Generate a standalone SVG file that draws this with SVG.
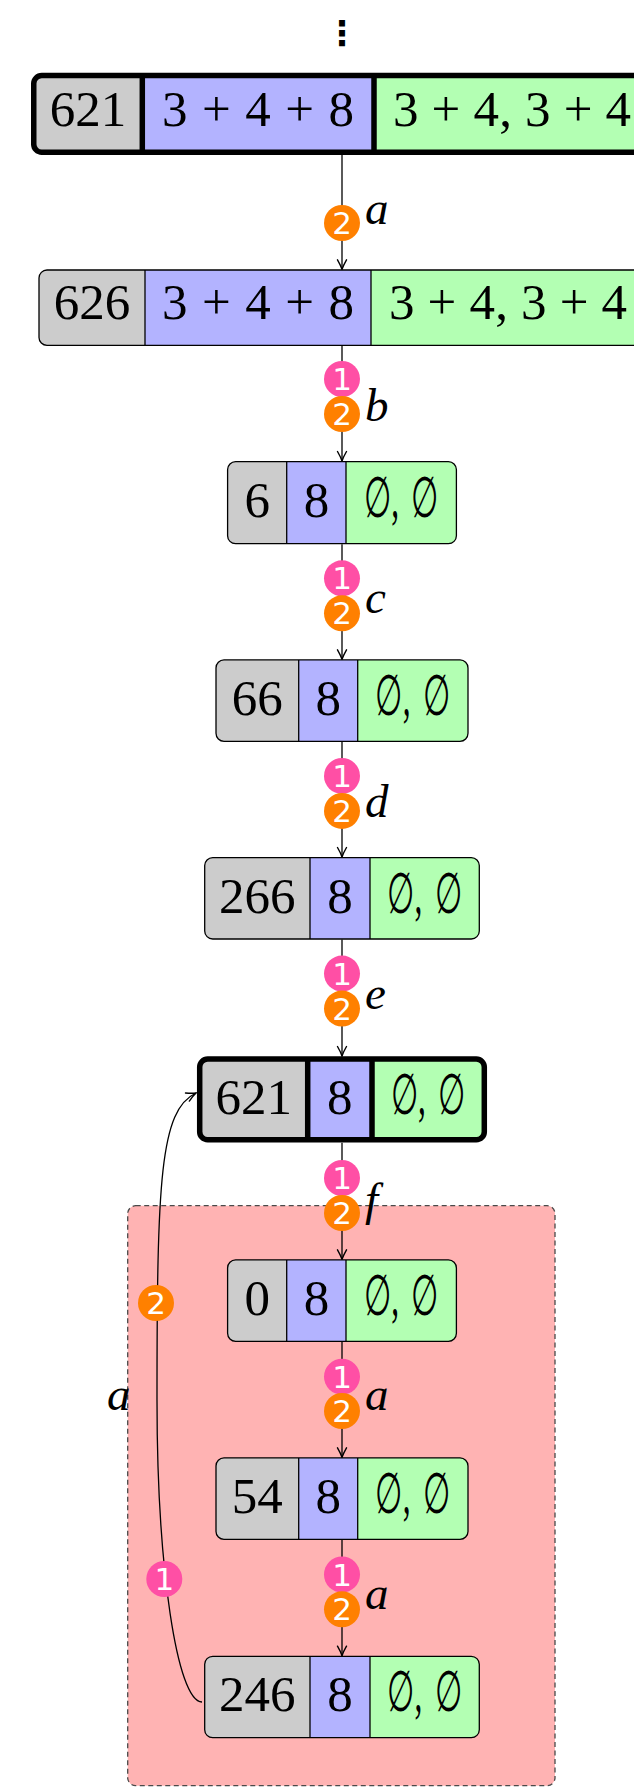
<svg xmlns="http://www.w3.org/2000/svg" width="634" height="1788" viewBox="0 0 634 1788">
<style>
.cg{fill:#cccccc}.cb{fill:#b3b3ff}.cr{fill:#b3ffb3}
.ol{fill:none;stroke:#000;stroke-width:1.3}
.olk{fill:none;stroke:#000;stroke-width:5.5}
.dv{stroke:#000;stroke-width:1.3}
.dvk{stroke:#000;stroke-width:5.5}
.t{font-family:"Liberation Serif","DejaVu Serif",serif;font-size:51px;text-anchor:middle;fill:#000}
.e{font-size:57px;word-spacing:8px}
.lbl{font-family:"Liberation Serif","DejaVu Serif",serif;font-style:italic;font-size:47px;fill:#000}
.pk{fill:#ff4fa5}.or{fill:#ff8000}
.bt{font-family:"DejaVu Sans",sans-serif;font-size:31px;fill:#fff;text-anchor:middle}
.edge{stroke:#000;stroke-width:1.3;fill:none}
</style>
<defs>
<marker id="ah" viewBox="-11 -6 12 12" markerWidth="12" markerHeight="12" refX="0" refY="0" orient="auto" markerUnits="userSpaceOnUse">
<path d="M-9.5,-4.5 C-6,-2.5 -2.5,-0.8 0,0 C-2.5,0.8 -6,2.5 -9.5,4.5" fill="none" stroke="#000" stroke-width="1.4" stroke-linecap="round"/>
</marker>
</defs>

<g id="region">
<rect x="127.7" y="1205.7" width="427.3" height="580" rx="8" fill="#ffb3b3" stroke="#4a4a4a" stroke-width="1.3" stroke-dasharray="5 3.5"/>
</g>

<g id="dots">
<text x="342" y="45" font-family="DejaVu Sans, sans-serif" font-size="34" font-weight="bold" text-anchor="middle">⋮</text>
</g>

<g id="n1">
<path class="cg" d="M41.75,75.5 H142.3 V152.2 H41.75 A8 8 0 0 1 33.75,144.2 V83.5 A8 8 0 0 1 41.75,75.5 Z"/>
<rect class="cb" x="142.3" y="75.5" width="231.7" height="76.7"/>
<path class="cr" d="M374,75.5 H642.25 A8 8 0 0 1 650.25,83.5 V144.2 A8 8 0 0 1 642.25,152.2 H374 Z"/>
<rect class="olk" x="33.75" y="75.5" width="616.5" height="76.7" rx="8"/>
<line class="dvk" x1="142.3" y1="75.5" x2="142.3" y2="152.2"/>
<line class="dvk" x1="374" y1="75.5" x2="374" y2="152.2"/>
<text class="t" x="88" y="126">621</text>
<text class="t" x="258" y="126" textLength="192" lengthAdjust="spacing">3 + 4 + 8</text>
<text class="t" x="512" y="126" textLength="238" lengthAdjust="spacing">3 + 4, 3 + 4</text>
</g>

<g id="n2">
<path class="cg" d="M47,270 H145 V345.4 H47 A8 8 0 0 1 39,337.4 V278 A8 8 0 0 1 47,270 Z"/>
<rect class="cb" x="145" y="270" width="226" height="75.4"/>
<path class="cr" d="M371,270 H637 A8 8 0 0 1 645,278 V337.4 A8 8 0 0 1 637,345.4 H371 Z"/>
<rect class="ol" x="39" y="270" width="606" height="75.4" rx="8"/>
<line class="dv" x1="145" y1="270" x2="145" y2="345.4"/>
<line class="dv" x1="371" y1="270" x2="371" y2="345.4"/>
<text class="t" x="92" y="319">626</text>
<text class="t" x="258" y="319" textLength="192" lengthAdjust="spacing">3 + 4 + 8</text>
<text class="t" x="508" y="319" textLength="238" lengthAdjust="spacing">3 + 4, 3 + 4</text>
</g>

<g id="n3">
<path class="cg" d="M235.6,461.6 H286.7 V543.7 H235.6 A8 8 0 0 1 227.6,535.7 V469.6 A8 8 0 0 1 235.6,461.6 Z"/>
<rect class="cb" x="286.7" y="461.6" width="59.3" height="82.1"/>
<path class="cr" d="M346,461.6 H448.4 A8 8 0 0 1 456.4,469.6 V535.7 A8 8 0 0 1 448.4,543.7 H346 Z"/>
<rect class="ol" x="227.6" y="461.6" width="228.8" height="82.1" rx="8"/>
<line class="dv" x1="286.7" y1="461.6" x2="286.7" y2="543.7"/>
<line class="dv" x1="346" y1="461.6" x2="346" y2="543.7"/>
<text class="t" x="257.2" y="517.4">6</text>
<text class="t" x="316.4" y="517.4">8</text>
<text class="t e" x="401.2" y="517.4" textLength="75" lengthAdjust="spacingAndGlyphs">∅, ∅</text>
</g>

<g id="n4">
<path class="cg" d="M224,659.9 H298.7 V741.3 H224 A8 8 0 0 1 216,733.3 V667.9 A8 8 0 0 1 224,659.9 Z"/>
<rect class="cb" x="298.7" y="659.9" width="59" height="81.4"/>
<path class="cr" d="M357.7,659.9 H460 A8 8 0 0 1 468,667.9 V733.3 A8 8 0 0 1 460,741.3 H357.7 Z"/>
<rect class="ol" x="216" y="659.9" width="252" height="81.4" rx="8"/>
<line class="dv" x1="298.7" y1="659.9" x2="298.7" y2="741.3"/>
<line class="dv" x1="357.7" y1="659.9" x2="357.7" y2="741.3"/>
<text class="t" x="257.35" y="715">66</text>
<text class="t" x="328.2" y="715">8</text>
<text class="t e" x="412.85" y="715" textLength="75" lengthAdjust="spacingAndGlyphs">∅, ∅</text>
</g>

<g id="n5">
<path class="cg" d="M212.7,857.6 H310 V939 H212.7 A8 8 0 0 1 204.7,931 V865.6 A8 8 0 0 1 212.7,857.6 Z"/>
<rect class="cb" x="310" y="857.6" width="60" height="81.4"/>
<path class="cr" d="M370,857.6 H471.3 A8 8 0 0 1 479.3,865.6 V931 A8 8 0 0 1 471.3,939 H370 Z"/>
<rect class="ol" x="204.7" y="857.6" width="274.6" height="81.4" rx="8"/>
<line class="dv" x1="310" y1="857.6" x2="310" y2="939"/>
<line class="dv" x1="370" y1="857.6" x2="370" y2="939"/>
<text class="t" x="257.35" y="912.7">266</text>
<text class="t" x="340" y="912.7">8</text>
<text class="t e" x="424.65" y="912.7" textLength="75" lengthAdjust="spacingAndGlyphs">∅, ∅</text>
</g>

<g id="n6">
<path class="cg" d="M207.7,1059 H307.7 V1139.7 H207.7 A8 8 0 0 1 199.7,1131.7 V1067 A8 8 0 0 1 207.7,1059 Z"/>
<rect class="cb" x="307.7" y="1059" width="64.3" height="80.7"/>
<path class="cr" d="M372,1059 H476.3 A8 8 0 0 1 484.3,1067 V1131.7 A8 8 0 0 1 476.3,1139.7 H372 Z"/>
<rect class="olk" x="199.7" y="1059" width="284.6" height="80.7" rx="8"/>
<line class="dvk" x1="307.7" y1="1059" x2="307.7" y2="1139.7"/>
<line class="dvk" x1="372" y1="1059" x2="372" y2="1139.7"/>
<text class="t" x="253.7" y="1114">621</text>
<text class="t" x="339.85" y="1114">8</text>
<text class="t e" x="428.15" y="1114" textLength="75" lengthAdjust="spacingAndGlyphs">∅, ∅</text>
</g>

<g id="n7">
<path class="cg" d="M235.6,1259.9 H286.7 V1341.3 H235.6 A8 8 0 0 1 227.6,1333.3 V1267.9 A8 8 0 0 1 235.6,1259.9 Z"/>
<rect class="cb" x="286.7" y="1259.9" width="59.3" height="81.4"/>
<path class="cr" d="M346,1259.9 H448.4 A8 8 0 0 1 456.4,1267.9 V1333.3 A8 8 0 0 1 448.4,1341.3 H346 Z"/>
<rect class="ol" x="227.6" y="1259.9" width="228.8" height="81.4" rx="8"/>
<line class="dv" x1="286.7" y1="1259.9" x2="286.7" y2="1341.3"/>
<line class="dv" x1="346" y1="1259.9" x2="346" y2="1341.3"/>
<text class="t" x="257.2" y="1315">0</text>
<text class="t" x="316.4" y="1315">8</text>
<text class="t e" x="401.2" y="1315" textLength="75" lengthAdjust="spacingAndGlyphs">∅, ∅</text>
</g>

<g id="n8">
<path class="cg" d="M224,1457.9 H298.7 V1539.4 H224 A8 8 0 0 1 216,1531.4 V1465.9 A8 8 0 0 1 224,1457.9 Z"/>
<rect class="cb" x="298.7" y="1457.9" width="59" height="81.5"/>
<path class="cr" d="M357.7,1457.9 H460 A8 8 0 0 1 468,1465.9 V1531.4 A8 8 0 0 1 460,1539.4 H357.7 Z"/>
<rect class="ol" x="216" y="1457.9" width="252" height="81.5" rx="8"/>
<line class="dv" x1="298.7" y1="1457.9" x2="298.7" y2="1539.4"/>
<line class="dv" x1="357.7" y1="1457.9" x2="357.7" y2="1539.4"/>
<text class="t" x="257.35" y="1513">54</text>
<text class="t" x="328.2" y="1513">8</text>
<text class="t e" x="412.85" y="1513" textLength="75" lengthAdjust="spacingAndGlyphs">∅, ∅</text>
</g>

<g id="n9">
<path class="cg" d="M212.7,1656.3 H310 V1737.7 H212.7 A8 8 0 0 1 204.7,1729.7 V1664.3 A8 8 0 0 1 212.7,1656.3 Z"/>
<rect class="cb" x="310" y="1656.3" width="60" height="81.4"/>
<path class="cr" d="M370,1656.3 H471.3 A8 8 0 0 1 479.3,1664.3 V1729.7 A8 8 0 0 1 471.3,1737.7 H370 Z"/>
<rect class="ol" x="204.7" y="1656.3" width="274.6" height="81.4" rx="8"/>
<line class="dv" x1="310" y1="1656.3" x2="310" y2="1737.7"/>
<line class="dv" x1="370" y1="1656.3" x2="370" y2="1737.7"/>
<text class="t" x="257.35" y="1711.4">246</text>
<text class="t" x="340" y="1711.4">8</text>
<text class="t e" x="424.65" y="1711.4" textLength="75" lengthAdjust="spacingAndGlyphs">∅, ∅</text>
</g>

<g id="connectors">
<line class="edge" x1="342" y1="155" x2="342" y2="269.3" marker-end="url(#ah)"/>
<line class="edge" x1="342" y1="346" x2="342" y2="461" marker-end="url(#ah)"/>
<line class="edge" x1="342" y1="544.3" x2="342" y2="659.3" marker-end="url(#ah)"/>
<line class="edge" x1="342" y1="741.9" x2="342" y2="857" marker-end="url(#ah)"/>
<line class="edge" x1="342" y1="939.6" x2="342" y2="1056" marker-end="url(#ah)"/>
<line class="edge" x1="342" y1="1142.7" x2="342" y2="1259.3" marker-end="url(#ah)"/>
<line class="edge" x1="342" y1="1341.7" x2="342" y2="1457.3" marker-end="url(#ah)"/>
<line class="edge" x1="342" y1="1540" x2="342" y2="1655.7" marker-end="url(#ah)"/>
<path class="edge" d="M202,1702 C177,1702 157,1567 157,1400 C157,1180 160,1110 196,1093" marker-end="url(#ah)"/>

<circle class="or" cx="342" cy="223" r="18"/><text class="bt" x="342" y="234">2</text>
<text class="lbl" x="365" y="224">a</text>

<circle class="pk" cx="342" cy="379" r="18"/><text class="bt" x="342" y="390">1</text>
<circle class="or" cx="342" cy="414" r="18"/><text class="bt" x="342" y="425">2</text>
<text class="lbl" x="365" y="421">b</text>

<circle class="pk" cx="342" cy="578.3" r="18"/><text class="bt" x="342" y="589.3">1</text>
<circle class="or" cx="342" cy="613.3" r="18"/><text class="bt" x="342" y="624.3">2</text>
<text class="lbl" x="365" y="613.3">c</text>

<circle class="pk" cx="342" cy="775.9" r="18"/><text class="bt" x="342" y="786.9">1</text>
<circle class="or" cx="342" cy="810.9" r="18"/><text class="bt" x="342" y="821.9">2</text>
<text class="lbl" x="365" y="817">d</text>

<circle class="pk" cx="342" cy="973.6" r="18"/><text class="bt" x="342" y="984.6">1</text>
<circle class="or" cx="342" cy="1008.6" r="18"/><text class="bt" x="342" y="1019.6">2</text>
<text class="lbl" x="365" y="1008.6">e</text>

<circle class="pk" cx="342" cy="1178" r="18"/><text class="bt" x="342" y="1189">1</text>
<circle class="or" cx="342" cy="1213" r="18"/><text class="bt" x="342" y="1224">2</text>
<text class="lbl" x="365" y="1215">f</text>

<circle class="pk" cx="342" cy="1376.7" r="18"/><text class="bt" x="342" y="1387.7">1</text>
<circle class="or" cx="342" cy="1411" r="18"/><text class="bt" x="342" y="1422">2</text>
<text class="lbl" x="365" y="1410">a</text>

<circle class="pk" cx="342" cy="1574.5" r="18"/><text class="bt" x="342" y="1585.5">1</text>
<circle class="or" cx="342" cy="1609.3" r="18"/><text class="bt" x="342" y="1620.3">2</text>
<text class="lbl" x="365" y="1608.5">a</text>

<circle class="pk" cx="164.3" cy="1579" r="18"/><text class="bt" x="164.3" y="1590">1</text>
<circle class="or" cx="156" cy="1303" r="18"/><text class="bt" x="156" y="1314">2</text>
<text class="lbl" x="107" y="1410">a</text>
</g>
</svg>
